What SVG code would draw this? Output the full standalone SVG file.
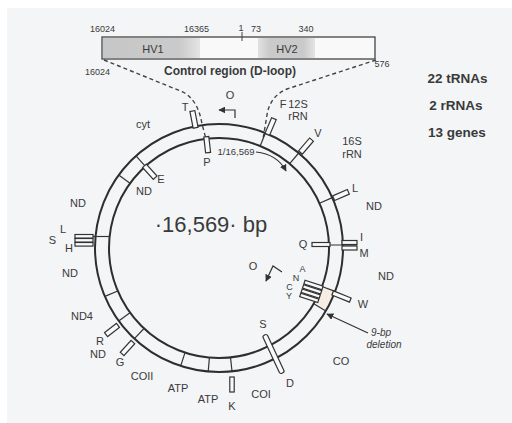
<svg xmlns="http://www.w3.org/2000/svg" width="512" height="423" viewBox="0 0 512 423">
<defs>
<style>
.t{font-family:"Liberation Sans",Arial,sans-serif;fill:#3a3a3a;text-anchor:middle}
.g{font-size:11px}
.s{font-size:9px}
.b{font-weight:bold}
.ring{fill:none;stroke:#2e2e2e;stroke-width:2}
.div{stroke:#333;stroke-width:1.2}
.box{fill:#fafafa;stroke:#333;stroke-width:1.2}
.dash{fill:none;stroke:#444;stroke-width:1.4;stroke-dasharray:4 3}
.ln{fill:none;stroke:#333;stroke-width:1.2}
</style>
<linearGradient id="hv1" x1="0" x2="1" y1="0" y2="0">
<stop offset="0" stop-color="#c6c6c6"/><stop offset="0.8" stop-color="#cbcbcb"/><stop offset="1" stop-color="#e4e4e4"/>
</linearGradient>
<linearGradient id="hv2" x1="0" x2="1" y1="0" y2="0">
<stop offset="0" stop-color="#e2e2e2"/><stop offset="0.2" stop-color="#cacaca"/><stop offset="0.8" stop-color="#cacaca"/><stop offset="1" stop-color="#e4e4e4"/>
</linearGradient>
<marker id="ah" viewBox="0 0 10 10" refX="9" refY="5" markerWidth="7" markerHeight="7" orient="auto-start-reverse" markerUnits="userSpaceOnUse">
<path d="M0,0 L10,5 L0,10 Z" fill="#333"/>
</marker>
</defs>
<rect width="512" height="423" fill="#ffffff"/>
<rect x="7" y="8" width="505" height="415" fill="#f3f5f7"/>

<g id="control-region">
<rect x="102" y="37" width="273" height="22" fill="#f9f9f9" stroke="#444" stroke-width="1.3"/>
<rect x="103" y="38" width="97" height="20" fill="url(#hv1)"/>
<rect x="258" y="38" width="57" height="20" fill="url(#hv2)"/>
<text class="t g" x="153" y="53">HV1</text>
<text class="t g" x="287" y="53">HV2</text>
<line x1="242" y1="32" x2="242" y2="41" stroke="#444" stroke-width="1"/>
<text class="t s" x="102.5" y="32">16024</text>
<text class="t s" x="196.5" y="32">16365</text>
<text class="t s" x="241" y="31">1</text>
<text class="t s" x="256" y="32">73</text>
<text class="t s" x="306" y="32">340</text>
<text class="t s" x="97.5" y="75">16024</text>
<text class="t b" x="230" y="75" font-size="12">Control region (D-loop)</text>
<text class="t s" x="382" y="67">576</text>
</g>

<g id="stats">
<text class="t b" x="457.5" y="82.5" font-size="13.5">22 tRNAs</text>
<text class="t b" x="456" y="110" font-size="13.5">2 rRNAs</text>
<text class="t b" x="457" y="137" font-size="13.5">13 genes</text>
</g>

<g id="connectors">
<path class="dash" d="M104,60 L183,92 Q198,100 202,124 L206,139"/>
<path class="dash" d="M376,60 L287,89 Q270,96 267,115 L263,139"/>
<path class="ln" d="M256,152 Q277,154 286,171" marker-end="url(#ah)"/>
<path class="ln" d="M235,118 L235,110 L219,110" marker-end="url(#ah)"/>
<path class="ln" d="M282,272 L273,266 L266,281" marker-end="url(#ah)"/>
<line class="ln" x1="368" y1="333" x2="327" y2="314" marker-end="url(#ah)"/>
</g>

<g id="genome">
<path d="M322,286.5 L335.1,291.4 A124,124 0 0,1 325.8,310.9 L313.8,303.8 A110,110 0 0,0 322,286.5 Z" fill="#f6ede4"/>
<circle class="ring" cx="219" cy="248" r="124"/>
<circle class="ring" cx="219" cy="248" r="110" stroke-width="1.8"/>
<line class="div" x1="260.2" y1="146" x2="265.4" y2="133"/>
<line class="div" x1="289.7" y1="163.7" x2="298.7" y2="153"/>
<line class="div" x1="319.5" y1="203.3" x2="332.3" y2="197.6"/>
<line class="div" x1="322" y1="286.5" x2="335.1" y2="291.4"/>
<line class="div" x1="313.8" y1="303.8" x2="325.8" y2="310.9"/>
<line class="div" x1="230.5" y1="357.4" x2="232" y2="371.3"/>
<line class="div" x1="209.4" y1="357.6" x2="208.2" y2="371.5"/>
<line class="div" x1="185" y1="352.6" x2="180.7" y2="365.9"/>
<line class="div" x1="144" y1="328.5" x2="134.4" y2="338.7"/>
<line class="div" x1="130" y1="312.7" x2="118.7" y2="320.9"/>
<line class="div" x1="117.7" y1="291" x2="104.9" y2="296.4"/>
<line class="div" x1="109.6" y1="236.5" x2="92" y2="236.5"/>
<line class="div" x1="130" y1="183.3" x2="118.7" y2="175.1"/>
<line class="div" x1="145.4" y1="166.3" x2="136" y2="155.9"/>
<line class="div" x1="312" y1="245" x2="357" y2="245"/>
</g>

<g id="trna-T"><rect class="box" x="-2.5" y="-8.5" width="5" height="17" transform="translate(194,119.4) rotate(349)"/><text class="t g" x="185" y="111">T</text></g>
<g id="trna-P"><rect class="box" x="-2.5" y="-8" width="5" height="16" transform="translate(207.2,144.7) rotate(353.5)"/><text class="t g" x="207" y="166">P</text></g>
<g id="trna-F"><rect class="box" x="-2.5" y="-8.5" width="5" height="17" transform="translate(270.6,126.5) rotate(23)"/><text class="t g" x="283" y="108">F</text></g>
<g id="rrna-12S"><text class="t g" x="298" y="108">12S</text><text class="t g" x="298" y="120">rRN</text></g>
<g id="trna-V"><rect class="box" x="-2.5" y="-8.5" width="5" height="17" transform="translate(306,146.1) rotate(40.5)"/><text class="t g" x="318" y="137">V</text></g>
<g id="rrna-16S"><text class="t g" x="352" y="145">16S</text><text class="t g" x="352" y="158">rRN</text></g>
<g id="trna-L1"><rect class="box" x="-2.5" y="-8" width="5" height="16" transform="translate(341,195) rotate(66.5)"/><text class="t g" x="355" y="192">L</text></g>
<g id="gene-ND1"><text class="t g" x="374" y="210">ND</text></g>
<g id="trna-I"><rect class="box" x="342" y="240.5" width="15" height="4"/><text class="t g" x="361.5" y="241">I</text></g>
<g id="trna-M"><rect class="box" x="342" y="246" width="15" height="4"/><text class="t g" x="364" y="257">M</text></g>
<g id="trna-Q"><rect class="box" x="312" y="242.5" width="18" height="4"/><text class="t g" x="303" y="248">Q</text></g>
<g id="gene-ND2"><text class="t g" x="386" y="280">ND</text></g>
<g id="trna-W"><rect class="box" x="-9.5" y="-2.2" width="19" height="4.4" transform="translate(341.5,296.5) rotate(22)"/><text class="t g" x="363" y="308">W</text></g>
<g id="trna-ANCY">
<rect class="box" x="-9.5" y="-1.8" width="19" height="3.6" transform="translate(313.5,285) rotate(18)"/>
<rect class="box" x="-9.5" y="-1.8" width="19" height="3.6" transform="translate(312.1,289.3) rotate(18)"/>
<rect class="box" x="-9.5" y="-1.8" width="19" height="3.6" transform="translate(310.7,293.6) rotate(18)"/>
<rect class="box" x="-9.5" y="-1.8" width="19" height="3.6" transform="translate(309.3,297.9) rotate(18)"/>
<text class="t" font-size="9" x="302.5" y="272">A</text>
<text class="t" font-size="9" x="296" y="280.5">N</text>
<text class="t" font-size="9" x="289.5" y="289.5">C</text>
<text class="t" font-size="9" x="289" y="299">Y</text>
</g>
<g id="origin-L"><text class="t g" x="253" y="270">O</text></g>
<g id="origin-H"><text class="t g" x="230" y="99">O</text></g>
<g id="deletion"><text class="t" font-size="10" font-style="italic" x="381" y="336">9-bp</text><text class="t" font-size="10" font-style="italic" x="384" y="348">deletion</text></g>
<g id="gene-CO3"><text class="t g" x="341" y="365">CO</text></g>
<g id="trna-SD"><rect class="box" x="-2.5" y="-21" width="5" height="42" rx="2" transform="translate(273.5,354) rotate(-25)"/><text class="t g" x="263" y="328">S</text><text class="t g" x="290" y="387">D</text></g>
<g id="gene-COI"><text class="t g" x="261" y="398">COI</text></g>
<g id="trna-K"><rect class="box" x="229.8" y="377" width="4.4" height="15"/><text class="t g" x="232" y="410">K</text></g>
<g id="gene-ATP1"><text class="t g" x="178" y="392">ATP</text></g>
<g id="gene-ATP2"><text class="t g" x="208" y="403">ATP</text></g>
<g id="gene-COII"><text class="t g" x="142" y="380">COII</text></g>
<g id="trna-G"><rect class="box" x="-2.5" y="-8" width="5" height="16" transform="translate(127.5,348) rotate(42.5)"/><text class="t g" x="120" y="366">G</text></g>
<g id="trna-R"><rect class="box" x="-2.5" y="-7.5" width="5" height="15" transform="translate(112,330) rotate(52.5)"/><text class="t g" x="100" y="345">R</text></g>
<g id="gene-ND3"><text class="t g" x="98" y="358">ND</text></g>
<g id="gene-ND4"><text class="t g" x="82" y="320">ND4</text></g>
<g id="gene-ND5"><text class="t g" x="70" y="277">ND</text></g>
<g id="trna-SLH">
<rect class="box" x="75" y="234.5" width="18" height="3.6"/>
<rect class="box" x="75" y="238.5" width="18" height="3.6"/>
<rect class="box" x="75" y="242.5" width="18" height="3.6"/>
<text class="t g" x="52.5" y="244">S</text>
<text class="t g" x="63" y="233">L</text>
<text class="t g" x="69" y="252">H</text>
</g>
<g id="gene-ND6"><text class="t g" x="78" y="207">ND</text></g>
<g id="trna-E"><rect class="box" x="-2.5" y="-8" width="5" height="16" transform="translate(149.8,171.7) rotate(317.8)"/><text class="t g" x="161" y="183">E</text></g>
<g id="gene-ND7"><text class="t g" x="144" y="195">ND</text></g>
<g id="gene-cyt"><text class="t g" x="143" y="128">cyt</text></g>
<g id="origin-label"><text class="t" font-size="9.5" x="236" y="155">1/16,569</text></g>
<g id="size"><text class="t" font-size="22" x="211" y="232">·16,569· bp</text></g>
</svg>
